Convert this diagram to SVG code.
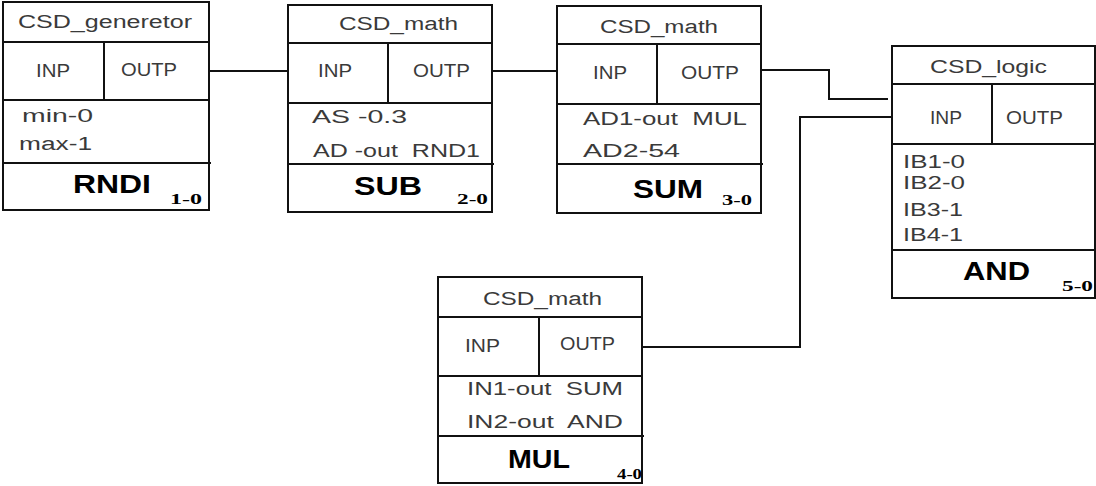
<svg xmlns="http://www.w3.org/2000/svg" width="1096" height="486" viewBox="0 0 1096 486">
<style>
.box{fill:#fff;stroke:#111;stroke-width:2}
.ln{stroke:#111;stroke-width:2;fill:none}
.t{font-family:"Liberation Sans",Arial,sans-serif;font-size:18px;fill:#3a3a3a}
.b{font-family:"Liberation Sans",Arial,sans-serif;font-size:26px;font-weight:bold;fill:#000}
.n{font-family:"Liberation Serif","Times New Roman",serif;font-size:15px;font-weight:bold;fill:#000}
</style>
<rect width="1096" height="486" fill="#fff"/>
<g id="connectors">
<polyline class="ln" points="209,71 288,71"/>
<polyline class="ln" points="492,71 557,71"/>
<polyline class="ln" points="759,70 829,70 829,99 888,99"/>
<polyline class="ln" points="642,347 800,347 800,117 892,117"/>
</g>
<g id="rndi">
<rect class="box" x="3" y="2" width="206" height="208"/>
<line class="ln" x1="3" y1="42" x2="209" y2="42"/>
<line class="ln" x1="3" y1="100" x2="209" y2="100"/>
<line class="ln" x1="104" y1="42" x2="104" y2="100"/>
<line class="ln" x1="3" y1="163" x2="211" y2="163"/>
<text class="t" x="18" y="28" textLength="174" lengthAdjust="spacingAndGlyphs">CSD_generetor</text>
<text class="t" x="36" y="77" textLength="34" lengthAdjust="spacingAndGlyphs">INP</text>
<text class="t" x="121" y="76" textLength="56" lengthAdjust="spacingAndGlyphs">OUTP</text>
<text class="t" x="22" y="122" textLength="71" lengthAdjust="spacingAndGlyphs">min-0</text>
<text class="t" x="19" y="150" textLength="73" lengthAdjust="spacingAndGlyphs">max-1</text>
<text class="b" x="73" y="193" textLength="78" lengthAdjust="spacingAndGlyphs">RNDI</text>
<text class="n" x="170" y="204" textLength="32" lengthAdjust="spacingAndGlyphs">1-0</text>
</g>
<g id="sub">
<rect class="box" x="288" y="5" width="204" height="207"/>
<line class="ln" x1="288" y1="43" x2="492" y2="43"/>
<line class="ln" x1="288" y1="103" x2="492" y2="103"/>
<line class="ln" x1="388" y1="43" x2="388" y2="103"/>
<line class="ln" x1="288" y1="164" x2="494" y2="164"/>
<text class="t" x="339" y="30" textLength="119" lengthAdjust="spacingAndGlyphs">CSD_math</text>
<text class="t" x="318" y="77" textLength="34" lengthAdjust="spacingAndGlyphs">INP</text>
<text class="t" x="413" y="77" textLength="57" lengthAdjust="spacingAndGlyphs">OUTP</text>
<text class="t" x="312" y="123" textLength="95" lengthAdjust="spacingAndGlyphs">AS -0.3</text>
<text class="t" x="313" y="157" textLength="167" lengthAdjust="spacingAndGlyphs" xml:space="preserve">AD -out  RND1</text>
<text class="b" x="354" y="195" textLength="68" lengthAdjust="spacingAndGlyphs">SUB</text>
<text class="n" x="457" y="204" textLength="31" lengthAdjust="spacingAndGlyphs">2-0</text>
</g>
<g id="sum">
<rect class="box" x="557" y="6" width="204" height="207"/>
<line class="ln" x1="557" y1="44" x2="761" y2="44"/>
<line class="ln" x1="557" y1="104" x2="761" y2="104"/>
<line class="ln" x1="657" y1="44" x2="657" y2="104"/>
<line class="ln" x1="557" y1="164" x2="763" y2="164"/>
<text class="t" x="600" y="33" textLength="118" lengthAdjust="spacingAndGlyphs">CSD_math</text>
<text class="t" x="593" y="79" textLength="34" lengthAdjust="spacingAndGlyphs">INP</text>
<text class="t" x="681" y="79" textLength="58" lengthAdjust="spacingAndGlyphs">OUTP</text>
<text class="t" x="583" y="125" textLength="164" lengthAdjust="spacingAndGlyphs" xml:space="preserve">AD1-out  MUL</text>
<text class="t" x="583" y="157" textLength="97" lengthAdjust="spacingAndGlyphs">AD2-54</text>
<text class="b" x="633" y="198" textLength="70" lengthAdjust="spacingAndGlyphs">SUM</text>
<text class="n" x="722" y="205" textLength="30" lengthAdjust="spacingAndGlyphs">3-0</text>
</g>
<g id="mul">
<rect class="box" x="438" y="277" width="204" height="206"/>
<line class="ln" x1="438" y1="317" x2="642" y2="317"/>
<line class="ln" x1="438" y1="376" x2="642" y2="376"/>
<line class="ln" x1="539" y1="317" x2="539" y2="376"/>
<line class="ln" x1="438" y1="436" x2="644" y2="436"/>
<text class="t" x="483" y="305" textLength="119" lengthAdjust="spacingAndGlyphs">CSD_math</text>
<text class="t" x="465" y="352" textLength="35" lengthAdjust="spacingAndGlyphs">INP</text>
<text class="t" x="560" y="350" textLength="55" lengthAdjust="spacingAndGlyphs">OUTP</text>
<text class="t" x="467" y="395" textLength="156" lengthAdjust="spacingAndGlyphs" xml:space="preserve">IN1-out  SUM</text>
<text class="t" x="467" y="428" textLength="156" lengthAdjust="spacingAndGlyphs" xml:space="preserve">IN2-out  AND</text>
<text class="b" x="508" y="468" textLength="62" lengthAdjust="spacingAndGlyphs">MUL</text>
<text class="n" x="617" y="479" textLength="25" lengthAdjust="spacingAndGlyphs">4-0</text>
</g>
<g id="and">
<rect class="box" x="892" y="46" width="203" height="252"/>
<line class="ln" x1="892" y1="84" x2="1095" y2="84"/>
<line class="ln" x1="892" y1="144" x2="1095" y2="144"/>
<line class="ln" x1="992" y1="84" x2="992" y2="144"/>
<line class="ln" x1="892" y1="250" x2="1095" y2="250"/>
<text class="t" x="930" y="73" textLength="117" lengthAdjust="spacingAndGlyphs">CSD_logic</text>
<text class="t" x="930" y="124" textLength="32" lengthAdjust="spacingAndGlyphs">INP</text>
<text class="t" x="1006" y="124" textLength="57" lengthAdjust="spacingAndGlyphs">OUTP</text>
<text class="t" x="903" y="168" textLength="62" lengthAdjust="spacingAndGlyphs">IB1-0</text>
<text class="t" x="903" y="189" textLength="62" lengthAdjust="spacingAndGlyphs">IB2-0</text>
<text class="t" x="903" y="216" textLength="60" lengthAdjust="spacingAndGlyphs">IB3-1</text>
<text class="t" x="903" y="241" textLength="60" lengthAdjust="spacingAndGlyphs">IB4-1</text>
<text class="b" x="963" y="280" textLength="67" lengthAdjust="spacingAndGlyphs">AND</text>
<text class="n" x="1062" y="291" textLength="31" lengthAdjust="spacingAndGlyphs">5-0</text>
</g>
</svg>
